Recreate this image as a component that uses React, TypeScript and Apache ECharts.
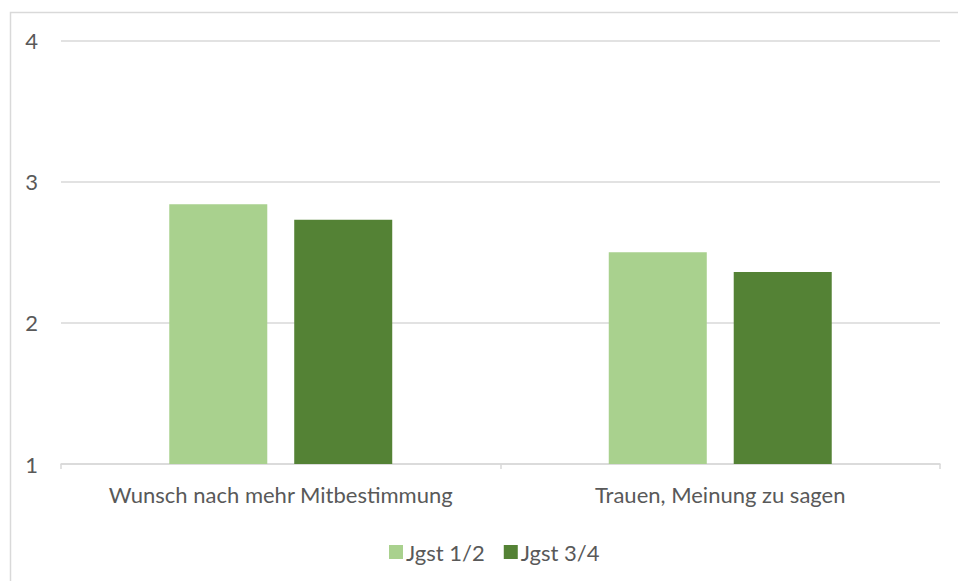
import React, { useEffect, useRef } from "react";
import * as echarts from "echarts";

const categories = ["Wunsch nach mehr Mitbestimmung", "Trauen, Meinung zu sagen"];
const seriesNames = ["Jgst 1/2", "Jgst 3/4"];
const jgst12 = [2.84, 2.5];
const jgst34 = [2.73, 2.36];

const FONT = "Lato, 'Open Sans', sans-serif";
const TEXT = "#595959";
const GRID = "#D9D9D9";
const FS = 22;

export default function App() {
  const ref = useRef<HTMLDivElement>(null);
  useEffect(() => {
    if (!ref.current) return;
    const chart = echarts.init(ref.current, undefined, { renderer: "svg" });
    chart.setOption({
      animation: false,
      backgroundColor: "#ffffff",
      textStyle: { fontFamily: FONT, color: TEXT },
      graphic: [
        {
          type: "rect",
          shape: { x: 10.5, y: 12.5, width: 960, height: 600 },
          style: { fill: "none", stroke: GRID, lineWidth: 1.5 },
          silent: true,
          z: -1,
        },
      ],
      grid: { left: 61, right: 18, top: 40.5, bottom: 117, containLabel: false },
      legend: {
        data: seriesNames,
        top: 536,
        left: 384,
        itemWidth: 14,
        itemHeight: 14,
        itemGap: 19,
        icon: "rect",
        textStyle: { color: TEXT, fontSize: FS, fontFamily: FONT, padding: [0, 0, 0, -2] },
      },
      xAxis: {
        type: "category",
        data: categories,
        axisLine: { lineStyle: { color: GRID, width: 1.5 } },
        axisTick: { show: true, length: 5, lineStyle: { color: GRID, width: 1.5 }, interval: 0 },
        axisLabel: { color: TEXT, fontSize: FS, fontFamily: FONT, margin: 19, interval: 0, hideOverlap: false },
        splitLine: { show: false },
      },
      yAxis: {
        type: "value",
        min: 1,
        max: 4,
        interval: 1,
        axisLine: { show: false },
        axisTick: { show: false },
        axisLabel: { color: TEXT, fontSize: FS, fontFamily: FONT, margin: 23 },
        splitLine: { lineStyle: { color: GRID, width: 1.5 } },
      },
      series: [
        {
          name: seriesNames[0],
          type: "bar",
          data: jgst12,
          barWidth: "22.3%",
          barGap: "27.5%",
          itemStyle: { color: "#A9D18E" },
        },
        {
          name: seriesNames[1],
          type: "bar",
          data: jgst34,
          barWidth: "22.3%",
          barGap: "27.5%",
          itemStyle: { color: "#548235" },
        },
      ],
    });
    return () => chart.dispose();
  }, []);
  return <div ref={ref} style={{ width: 958, height: 581, position: "absolute", left: 0, top: 0 }} />;
}
